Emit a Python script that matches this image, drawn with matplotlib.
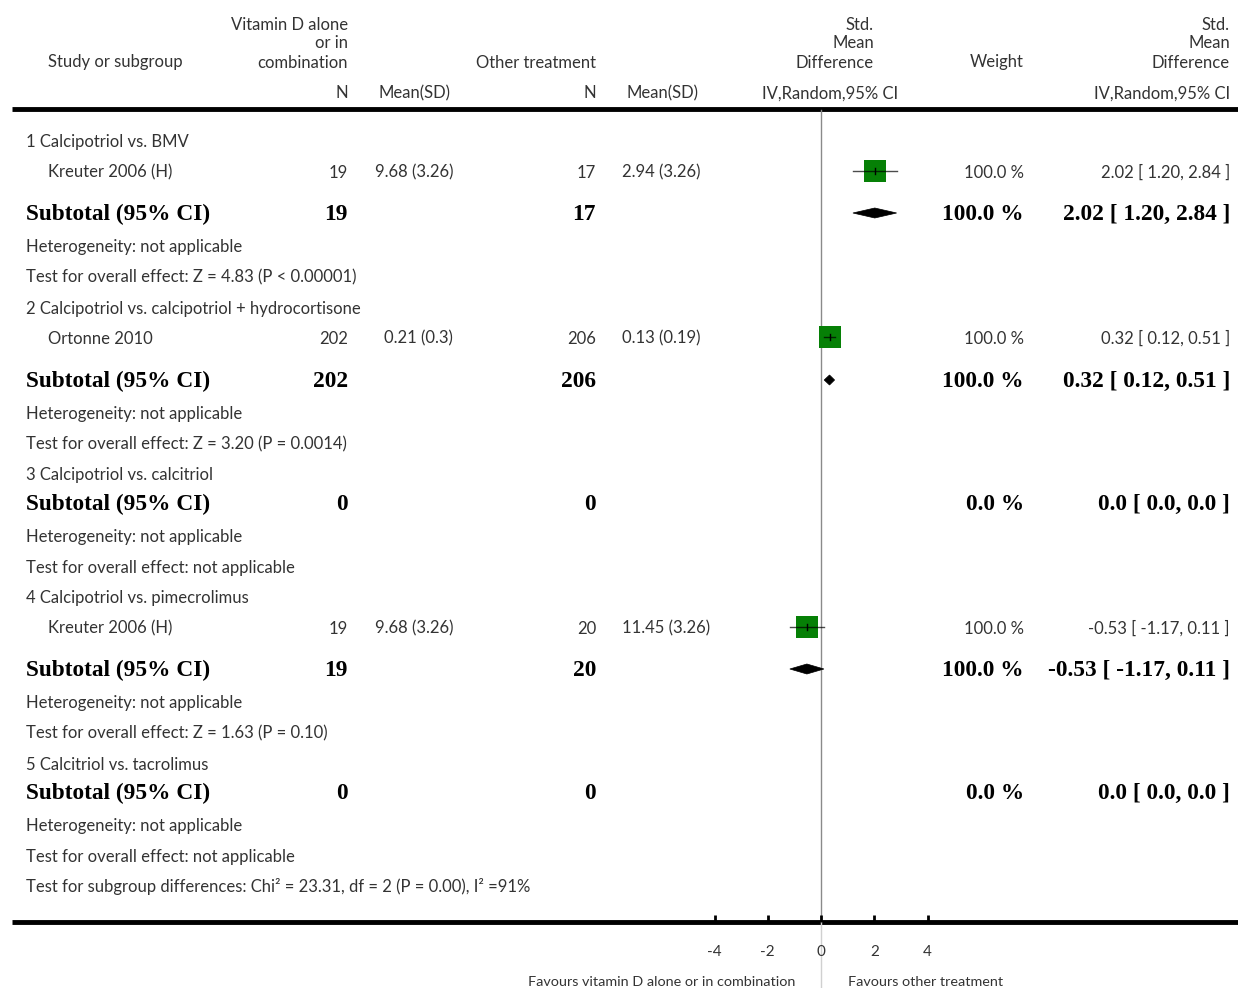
import matplotlib
matplotlib.use("Agg")
import matplotlib.pyplot as plt
from matplotlib.patches import Rectangle, Polygon

# ---------------- data ----------------
subgroup_titles = ["1 Calcipotriol vs. BMV",
                   "2 Calcipotriol vs. calcipotriol + hydrocortisone",
                   "3 Calcipotriol vs. calcitriol",
                   "4 Calcipotriol vs. pimecrolimus",
                   "5 Calcitriol vs. tacrolimus"]
study_names = ["Kreuter 2006 (H)", "Ortonne 2010", "Kreuter 2006 (H)"]
study_group = [0, 1, 3]
n_vitd = [19, 202, 19]
msd_vitd = ["9.68 (3.26)", "0.21 (0.3)", "9.68 (3.26)"]
n_other = [17, 206, 20]
msd_other = ["2.94 (3.26)", "0.13 (0.19)", "11.45 (3.26)"]
smd = [2.02, 0.32, -0.53]
smd_lo = [1.20, 0.12, -1.17]
smd_hi = [2.84, 0.51, 0.11]
study_weight = ["100.0 %", "100.0 %", "100.0 %"]
study_ci_text = ["2.02 [ 1.20, 2.84 ]", "0.32 [ 0.12, 0.51 ]", "-0.53 [ -1.17, 0.11 ]"]

sub_n_vitd = [19, 202, 0, 19, 0]
sub_n_other = [17, 206, 0, 20, 0]
sub_est = [2.02, 0.32, None, -0.53, None]
sub_lo = [1.20, 0.12, None, -1.17, None]
sub_hi = [2.84, 0.51, None, 0.11, None]
sub_weight = ["100.0 %", "100.0 %", "0.0 %", "100.0 %", "0.0 %"]
sub_ci_text = ["2.02 [ 1.20, 2.84 ]", "0.32 [ 0.12, 0.51 ]", "0.0 [ 0.0, 0.0 ]",
               "-0.53 [ -1.17, 0.11 ]", "0.0 [ 0.0, 0.0 ]"]
overall_tests = ["Test for overall effect: Z = 4.83 (P < 0.00001)",
                 "Test for overall effect: Z = 3.20 (P = 0.0014)",
                 "Test for overall effect: not applicable",
                 "Test for overall effect: Z = 1.63 (P = 0.10)",
                 "Test for overall effect: not applicable"]
subgroup_diff = "Test for subgroup differences: Chi² = 23.31, df = 2 (P = 0.00), I² =91%"
tick_values = [-4, -2, 0, 2, 4]
tick_labels = ["-4", "-2", "0", "2", "4"]
left_favours = "Favours vitamin D alone or in combination"
right_favours = "Favours other treatment"

# ---------------- layout ----------------
W, H = 1238, 988
fig = plt.figure(figsize=(W / 100, H / 100), dpi=100)
fig.patch.set_facecolor("white")

ax_t = fig.add_axes([0, 0, 1, 1])
ax_t.set_xlim(0, W)
ax_t.set_ylim(H, 0)
ax_t.axis("off")

X0 = 821.0   # pixel of SMD 0
K = 26.625   # pixels per unit
ax_f = fig.add_axes([0, 0, 1, 1])
ax_f.set_xlim(-X0 / K, (W - X0) / K)
ax_f.set_ylim(H, 0)
ax_f.axis("off")
ax_f.patch.set_alpha(0)

SANS = ["Lato", "DejaVu Sans"]
SERIF = ["Liberation Serif", "DejaVu Serif"]
TC = "#333333"
FS = 12
BFS = 16.8
DY = 1.5


def t(x, y, s, ha="left", size=FS, bold=False, color=TC):
    if bold:
        ax_t.text(x, y + DY, s, ha=ha, va="center", fontsize=size, family=SERIF,
                  fontweight="bold", color="black")
    else:
        ax_t.text(x, y + DY, s, ha=ha, va="center", fontsize=size, family=SANS,
                  color=color)

# header
t(348, 24, "Vitamin D alone", ha="right")
t(348, 42, "or in", ha="right")
t(348, 61, "combination", ha="right")
t(48, 61, "Study or subgroup")
t(596, 61, "Other treatment", ha="right")
t(874, 24, "Std.", ha="right")
t(874, 42, "Mean", ha="right")
t(874, 61, "Difference", ha="right")
t(1024, 61, "Weight", ha="right")
t(1230, 24, "Std.", ha="right")
t(1230, 42, "Mean", ha="right")
t(1230, 61, "Difference", ha="right")
t(348, 92, "N", ha="right")
t(379, 92, "Mean(SD)")
t(596, 92, "N", ha="right")
t(627, 92, "Mean(SD)")
t(830, 92, "IV,Random,95% CI", ha="center")
t(1230, 92, "IV,Random,95% CI", ha="right")

ax_t.plot([12, W], [109, 109], color="black", lw=3.5, solid_capstyle="butt")
ax_t.plot([12, W], [922, 922], color="black", lw=3.5, solid_capstyle="butt")

# zero line
ax_f.plot([0, 0], [110, 922], color="#8a8a8a", lw=1.0, zorder=1)
ax_f.plot([0, 0], [922, H], color="#d0d0d0", lw=1.0, zorder=1)

# rows
title_y = [140, 307, 473, 596, 763]
sub_y = [213, 380, 503, 669, 792]
study_y = [171, 337, 627]
study_lx = [375, 384, 375]

for i, name in enumerate(study_names):
    y = study_y[i]
    t(48, y, name)
    t(348, y, str(n_vitd[i]), ha="right")
    t(study_lx[i], y, msd_vitd[i])
    t(596, y, str(n_other[i]), ha="right")
    t(622, y, msd_other[i])
    t(1024, y, study_weight[i], ha="right")
    t(1230, y, study_ci_text[i], ha="right")
    # square + CI
    sw = 22 / K
    ax_f.add_patch(Rectangle((smd[i] - sw / 2, y - 11), sw, 22,
                             facecolor="#068006", edgecolor="none", zorder=2))
    ax_f.plot([smd_lo[i], smd_hi[i]], [y, y], color="black", lw=1.0, alpha=0.7, zorder=3)
    ax_f.plot([smd[i], smd[i]], [y - 3, y + 3], color="black", lw=1.0, zorder=3)

for g, title in enumerate(subgroup_titles):
    t(26, title_y[g], title)
    y = sub_y[g]
    t(26, y, "Subtotal (95% CI)", bold=True, size=BFS)
    t(348, y, str(sub_n_vitd[g]), ha="right", bold=True, size=BFS)
    t(596, y, str(sub_n_other[g]), ha="right", bold=True, size=BFS)
    t(1024, y, sub_weight[g], ha="right", bold=True, size=BFS)
    t(1230, y, sub_ci_text[g], ha="right", bold=True, size=BFS)
    t(26, y + 32, "Heterogeneity: not applicable")
    t(26, y + 63, overall_tests[g])
    if sub_est[g] is not None:
        hh = 5.0
        ax_f.add_patch(Polygon([(sub_lo[g], y), (sub_est[g], y - hh),
                                (sub_hi[g], y), (sub_est[g], y + hh)],
                               closed=True, facecolor="black", edgecolor="black",
                               lw=0.5, zorder=3))

t(26, 885, subgroup_diff)

# axis ticks
for v, lab in zip(tick_values, tick_labels):
    ax_f.plot([v, v], [915, 922], color="black", lw=2.0, solid_capstyle="butt")
    ax_f.text(v, 950 + DY, lab, ha="center", va="center", fontsize=11, family=SANS, color=TC)

t(795, 980, left_favours, ha="right", size=10.4)
t(848, 980, right_favours, size=10.4)

fig.savefig("out.png", dpi=100, facecolor="white")
